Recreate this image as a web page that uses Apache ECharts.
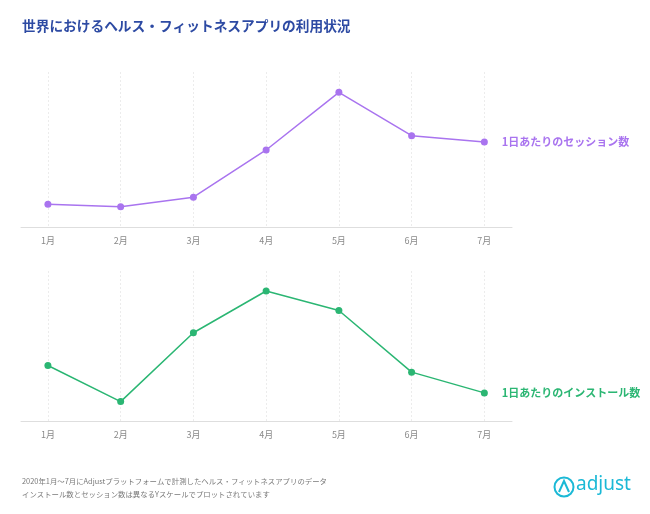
<!DOCTYPE html>
<html><head><meta charset="utf-8">
<script src="https://cdn.jsdelivr.net/npm/echarts@6/dist/echarts.min.js"></script>
<style>html,body{margin:0;padding:0;background:#fff}#c{width:650px;height:514px}</style>
</head><body><div id="c"></div>
<script>
const months = ['1月','2月','3月','4月','5月','6月','7月'];
const sessions = [14.6, 13.1, 19.2, 49.7, 86.9, 58.9, 54.8];
const installs = [37.1, 13.1, 58.9, 86.7, 73.7, 32.7, 18.9];
const sessionName = '1日あたりのセッション数';
const installName = '1日あたりのインストール数';
const title = '世界におけるヘルス・フィットネスアプリの利用状況';
const note1 = '2020年1月〜7月にAdjustプラットフォームで計測したヘルス・フィットネスアプリのデータ';
const note2 = 'インストール数とセッション数は異なるYスケールでプロットされています';

const idx = months.map((m,i)=>i);
const font = '"Noto Sans CJK JP", "Noto Sans", sans-serif';
function xAxis(gi){
  return {
    type:'value', gridIndex:gi, min:-0.37, max:6.38,
    axisLine:{show:true, lineStyle:{color:'#dedede', width:1}},
    axisTick:{show:false, customValues: idx},
    axisLabel:{customValues: idx, formatter: v => months[v], color:'#8a8a8a', fontSize:9, fontFamily:font, margin:9},
    splitLine:{show:true, lineStyle:{color:'#ececec', type:[2,2], width:1}}
  };
}
function yAxis(gi){
  return {type:'value', gridIndex:gi, min:0, max:100, show:false, splitLine:{show:false}};
}
function series(gi, name, vals, color){
  return {
    type:'line', name, xAxisIndex:gi, yAxisIndex:gi,
    data: vals.map((v,i)=>[i,v]),
    symbol:'circle', symbolSize:7, showSymbol:true,
    lineStyle:{color, width:1.5}, itemStyle:{color},
    label:{show:true, formatter: p => p.dataIndex === vals.length-1 ? name : '',
      position:'right', distance:14, color, fontSize:11, fontWeight:'bold', fontFamily:font},
    animation:false
  };
}
const chart = echarts.init(document.getElementById('c'));
chart.setOption({
  animation:false,
  title:{text:title, left:22, top:19, padding:0, textStyle:{color:'#2d4aa3', fontSize:13.7, fontWeight:'bold', fontFamily:font}},
  grid:[
    {left:21, right:138, top:72, bottom:287},
    {left:21, right:138, top:271, bottom:92.7}
  ],
  xAxis:[xAxis(0), xAxis(1)],
  yAxis:[yAxis(0), yAxis(1)],
  series:[
    series(0, sessionName, sessions, '#a974ef'),
    series(1, installName, installs, '#2bb673')
  ],
  graphic:[
    {type:'text', left:22, top:477, style:{text:note1, fill:'#7a7a7a', fontSize:7.4, fontFamily:font}},
    {type:'text', left:22, top:490, style:{text:note2, fill:'#7a7a7a', fontSize:7.4, fontFamily:font}},
    {type:'circle', shape:{cx:564, cy:487, r:9.5}, style:{fill:'none', stroke:'#1bb9d6', lineWidth:2}},
    {type:'polyline', shape:{points:[[559,492],[564,481],[569,492]]}, style:{fill:'none', stroke:'#1bb9d6', lineWidth:2}},
    {type:'text', left:576, top:475, style:{text:'adjust', fill:'#1bb9d6', fontSize:19, fontFamily:'"Noto Sans", sans-serif'}}
  ]
});
</script></body></html>
